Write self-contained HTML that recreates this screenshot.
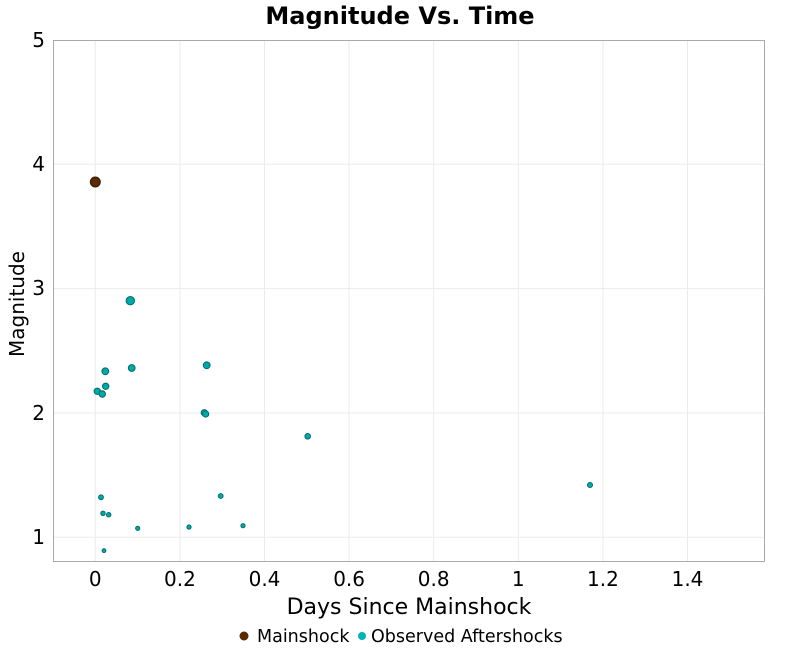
<!DOCTYPE html>
<html>
<head>
<meta charset="utf-8">
<style>
html,body{margin:0;padding:0;background:#fff;}
svg{display:block;}
text{font-family:"DejaVu Sans","Liberation Sans",sans-serif;fill:#000;}
</style>
</head>
<body>
<svg width="800" height="650" viewBox="0 0 800 650" xmlns="http://www.w3.org/2000/svg">
  <rect x="0" y="0" width="800" height="650" fill="#fff"/>
  <!-- gridlines -->
  <g stroke="#ebebeb" stroke-width="1">
    <line x1="95.3" y1="40" x2="95.3" y2="562"/>
    <line x1="179.9" y1="40" x2="179.9" y2="562"/>
    <line x1="264.5" y1="40" x2="264.5" y2="562"/>
    <line x1="349.1" y1="40" x2="349.1" y2="562"/>
    <line x1="433.7" y1="40" x2="433.7" y2="562"/>
    <line x1="518.3" y1="40" x2="518.3" y2="562"/>
    <line x1="602.9" y1="40" x2="602.9" y2="562"/>
    <line x1="687.5" y1="40" x2="687.5" y2="562"/>
    <line x1="53" y1="537.3" x2="765" y2="537.3"/>
    <line x1="53" y1="413" x2="765" y2="413"/>
    <line x1="53" y1="288.6" x2="765" y2="288.6"/>
    <line x1="53" y1="164.3" x2="765" y2="164.3"/>
  </g>
  <rect x="53.5" y="40.5" width="711" height="521" fill="none" stroke="#aaaaaa" stroke-width="1"/>

  <!-- y tick labels -->
  <g font-size="20" text-anchor="end">
    <text x="45" y="47">5</text>
    <text x="45" y="171">4</text>
    <text x="45" y="295">3</text>
    <text x="45" y="420">2</text>
    <text x="45" y="544">1</text>
  </g>
  <!-- x tick labels -->
  <g font-size="20" text-anchor="middle">
    <text x="95.3" y="586">0</text>
    <text x="179.9" y="586">0.2</text>
    <text x="264.5" y="586">0.4</text>
    <text x="349.1" y="586">0.6</text>
    <text x="433.7" y="586">0.8</text>
    <text x="518.3" y="586">1</text>
    <text x="602.9" y="586">1.2</text>
    <text x="687.5" y="586">1.4</text>
  </g>

  <text x="400" y="24" font-size="24" font-weight="bold" text-anchor="middle">Magnitude Vs. Time</text>
  <text x="409" y="614" font-size="22" text-anchor="middle">Days Since Mainshock</text>
  <text x="0" y="0" font-size="20" text-anchor="middle" transform="translate(24,304) rotate(-90)">Magnitude</text>

  <!-- aftershocks -->
  <g fill="#00a9a9" stroke="#006b6b" stroke-width="1">
    <circle cx="130.3" cy="300.7" r="4.2"/>
    <circle cx="105.3" cy="371.3" r="3.4"/>
    <circle cx="131.7" cy="368" r="3.4"/>
    <circle cx="206.7" cy="365.3" r="3.4"/>
    <circle cx="105.7" cy="386.3" r="3.2"/>
    <circle cx="97.3" cy="391.3" r="3.2"/>
    <circle cx="102.3" cy="394" r="3.2"/>
    <circle cx="204.3" cy="412.7" r="3.1"/>
    <circle cx="205.7" cy="414" r="3.1"/>
    <circle cx="307.7" cy="436.3" r="2.8"/>
    <circle cx="590" cy="485" r="2.5"/>
    <circle cx="101" cy="497.3" r="2.4"/>
    <circle cx="220.7" cy="496" r="2.4"/>
    <circle cx="103" cy="513.3" r="2.2"/>
    <circle cx="108.7" cy="514.7" r="2.2"/>
    <circle cx="137.7" cy="528.3" r="2.1"/>
    <circle cx="189" cy="527" r="2.1"/>
    <circle cx="243" cy="525.7" r="2.1"/>
    <circle cx="104" cy="550.7" r="1.9"/>
  </g>
  <!-- mainshock -->
  <circle cx="95.3" cy="182" r="5" fill="#5a2a00" stroke="#3a1a00" stroke-width="1"/>

  <!-- legend -->
  <circle cx="244" cy="636" r="4.5" fill="#5a2a00"/>
  <text x="257" y="642" font-size="17.5">Mainshock</text>
  <circle cx="362" cy="636" r="4" fill="#00b5b5"/>
  <text x="371" y="642" font-size="17.5">Observed Aftershocks</text>
</svg>
</body>
</html>
